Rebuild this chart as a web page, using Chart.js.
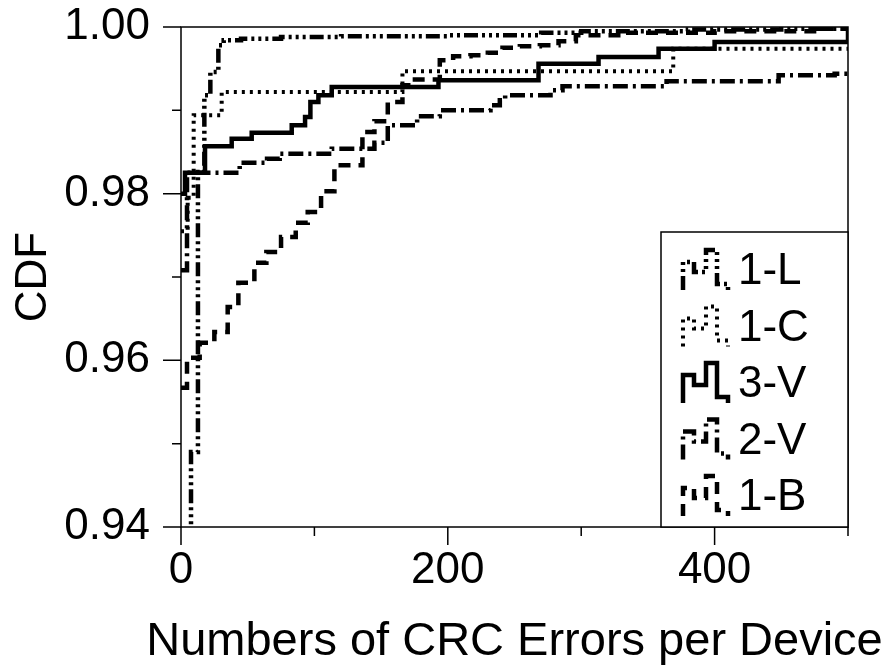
<!DOCTYPE html>
<html>
<head>
<meta charset="utf-8">
<script src="https://cdn.jsdelivr.net/npm/chart.js@4.4.1/dist/chart.umd.min.js"></script>
<style>
    html, body { margin: 0; padding: 0; background: #fff; }
    #wrap { width: 884px; height: 667px; }
</style>
</head>
<body>
<div id="wrap"><canvas id="cdfChart"></canvas></div>
<script>
    const seriesNames = ['1-L', '1-C', '3-V', '2-V', '1-B'];
    const xTickLabels = ['0', '200', '400'];
    const yTickLabels = ['0.94', '0.96', '0.98', '1.00'];
    const xTitle = 'Numbers of CRC Errors per Device';

    // step points: x = number of CRC errors, y = CDF after the step
    const errL1 = [0, 7.5, 12.7, 17.5, 22, 28, 32, 45, 75, 120, 200, 270, 300, 380, 450, 500];
    const cdfL1 = [0.93, 0.949, 0.9826, 0.9918, 0.9946, 0.9978, 0.9984, 0.9986, 0.9988, 0.9989, 0.999, 0.9993, 0.9995, 0.9997, 0.9998, 1.0];

    const errC1 = [0, 5, 9.5, 30.5, 166, 369, 500];
    const cdfC1 = [0.9755, 0.9795, 0.9894, 0.9922, 0.9947, 0.9974, 0.9974];

    const errV3 = [0, 3, 18, 38, 53, 83, 93, 97, 103, 113, 193, 268, 313, 358, 400, 500];
    const cdfV3 = [0.980, 0.9825, 0.9857, 0.9866, 0.9873, 0.9882, 0.9892, 0.9910, 0.9918, 0.9928, 0.9936, 0.9956, 0.9964, 0.9974, 0.9982, 0.9999];

    const errV2 = [0, 4.5, 44, 64.5, 74, 113, 145, 155, 177, 194, 232, 239, 243, 277, 286, 364, 448, 490, 500];
    const cdfV2 = [0.9708, 0.9825, 0.9837, 0.9842, 0.9848, 0.9854, 0.9861, 0.9882, 0.9893, 0.9900, 0.9906, 0.9912, 0.9918, 0.9924, 0.9929, 0.9935, 0.9942, 0.9944, 0.9947];

    const errB1 = [0, 4.5, 14, 25, 35, 43, 55, 64, 75, 86, 95, 105, 115, 136, 145, 155, 166, 173, 194, 204, 217, 230, 241, 254, 269, 283, 296, 330, 400, 480, 500];
    const cdfB1 = [0.9567, 0.9603, 0.9621, 0.9634, 0.9664, 0.9693, 0.9717, 0.9730, 0.9748, 0.9765, 0.9778, 0.9803, 0.9834, 0.9874, 0.9887, 0.9910, 0.9930, 0.9937, 0.9960, 0.9965, 0.9966, 0.9969, 0.9975, 0.9977, 0.9978, 0.9983, 0.9990, 0.9993, 0.9995, 0.9998, 1.0];

    const FONT = 'Liberation Sans, Arial, Helvetica, sans-serif';

    function pts(xs, ys) {
        return xs.map((x, i) => ({ x: x, y: ys[i] }));
    }

    const styles = [
        { dash: [14, 4, 3, 4, 3, 4, 3, 4], width: 4.5 },
        { dash: [3, 5], width: 4 },
        { dash: [], width: 4.5 },
        { dash: [15, 5, 3, 5], width: 4.5 },
        { dash: [12, 8], width: 4.5 }
    ];
    const seriesData = [pts(errL1, cdfL1), pts(errC1, cdfC1), pts(errV3, cdfV3), pts(errV2, cdfV2), pts(errB1, cdfB1)];

    // box, tick marks (long on labelled ticks, short otherwise), x title, legend
    const frame = {
        id: 'frame',
        afterDraw(chart) {
            const { ctx, chartArea: a, scales: { x, y } } = chart;
            ctx.save();
            ctx.strokeStyle = '#000';
            ctx.lineWidth = 1.5;
            ctx.setLineDash([]);
            ctx.strokeRect(a.left, a.top, a.right - a.left, a.bottom - a.top);
            ctx.beginPath();
            y.ticks.forEach(t => {
                const py = y.getPixelForValue(t.value);
                const len = t.label ? 18 : 9;
                ctx.moveTo(a.left - len, py);
                ctx.lineTo(a.left, py);
            });
            x.ticks.forEach(t => {
                const px = x.getPixelForValue(t.value);
                const len = t.label ? 18 : 9;
                ctx.moveTo(px, a.bottom);
                ctx.lineTo(px, a.bottom + len);
            });
            ctx.stroke();

            ctx.fillStyle = '#000';
            ctx.font = '47px ' + FONT;
            ctx.textAlign = 'center';
            ctx.textBaseline = 'alphabetic';
            ctx.fillText(xTitle, (a.left + a.right) / 2, 655);

            const bx = a.right - 187, by = a.bottom - 295;
            ctx.fillStyle = '#fff';
            ctx.fillRect(bx, by, a.right - bx, a.bottom - by);
            ctx.strokeRect(bx, by, a.right - bx, a.bottom - by);
            const icon = [[0, 40], [0, 12], [11, 12], [11, 22], [23, 22], [23, 0], [34, 0], [34, 34], [45, 34], [45, 40]];
            ctx.font = '44px ' + FONT;
            ctx.textAlign = 'left';
            ctx.textBaseline = 'middle';
            ctx.fillStyle = '#000';
            chart.data.datasets.forEach((ds, i) => {
                const cy = by + 38 + i * 56.5;
                const ix = bx + 22, iy = cy - 20;
                ctx.lineWidth = ds.borderWidth;
                ctx.setLineDash(ds.borderDash);
                ctx.beginPath();
                icon.forEach((p, k) => {
                    if (k === 0) ctx.moveTo(ix + p[0], iy + p[1]);
                    else ctx.lineTo(ix + p[0], iy + p[1]);
                });
                ctx.stroke();
                ctx.setLineDash([]);
                ctx.fillText(ds.label, bx + 77, cy + 2);
            });
            ctx.restore();
        }
    };

    const ctx = document.getElementById('cdfChart').getContext('2d');
    new Chart(ctx, {
        type: 'line',
        data: {
            datasets: seriesNames.map((name, i) => ({
                label: name,
                data: seriesData[i],
                stepped: 'before',
                borderColor: '#000',
                borderWidth: styles[i].width,
                borderDash: styles[i].dash,
                borderCapStyle: 'butt',
                borderJoinStyle: 'miter',
                pointRadius: 0,
                fill: false
            }))
        },
        options: {
            responsive: true,
            maintainAspectRatio: false,
            animation: false,
            layout: { padding: { top: 27, right: 36, left: 0, bottom: 0 } },
            plugins: {
                legend: { display: false },
                tooltip: { enabled: false }
            },
            scales: {
                x: {
                    type: 'linear',
                    min: 0,
                    max: 500,
                    grid: { display: false, drawTicks: true, tickLength: 22 },
                    border: { display: false },
                    ticks: {
                        stepSize: 100,
                        padding: 0,
                        color: '#000',
                        maxRotation: 0,
                        font: { family: FONT, size: 44, lineHeight: 1 },
                        callback: v => xTickLabels.includes(String(v)) ? String(v) : ''
                    },
                    afterFit: s => { s.height = 140; }
                },
                y: {
                    min: 0.94,
                    max: 1.0,
                    grid: { display: false, drawTicks: true, tickLength: 31 },
                    border: { display: false },
                    ticks: {
                        stepSize: 0.01,
                        padding: 0,
                        color: '#000',
                        font: { family: FONT, size: 44, lineHeight: 1 },
                        callback: v => {
                            const s = v.toFixed(2);
                            return yTickLabels.includes(s) ? s : '';
                        }
                    },
                    title: {
                        display: true,
                        text: 'CDF',
                        color: '#000',
                        font: { family: FONT, size: 44, lineHeight: 1 },
                        padding: { top: 12, bottom: 0 }
                    },
                    afterFit: s => { s.width = 181; }
                }
            }
        },
        plugins: [frame]
    });
</script>
</body>
</html>
